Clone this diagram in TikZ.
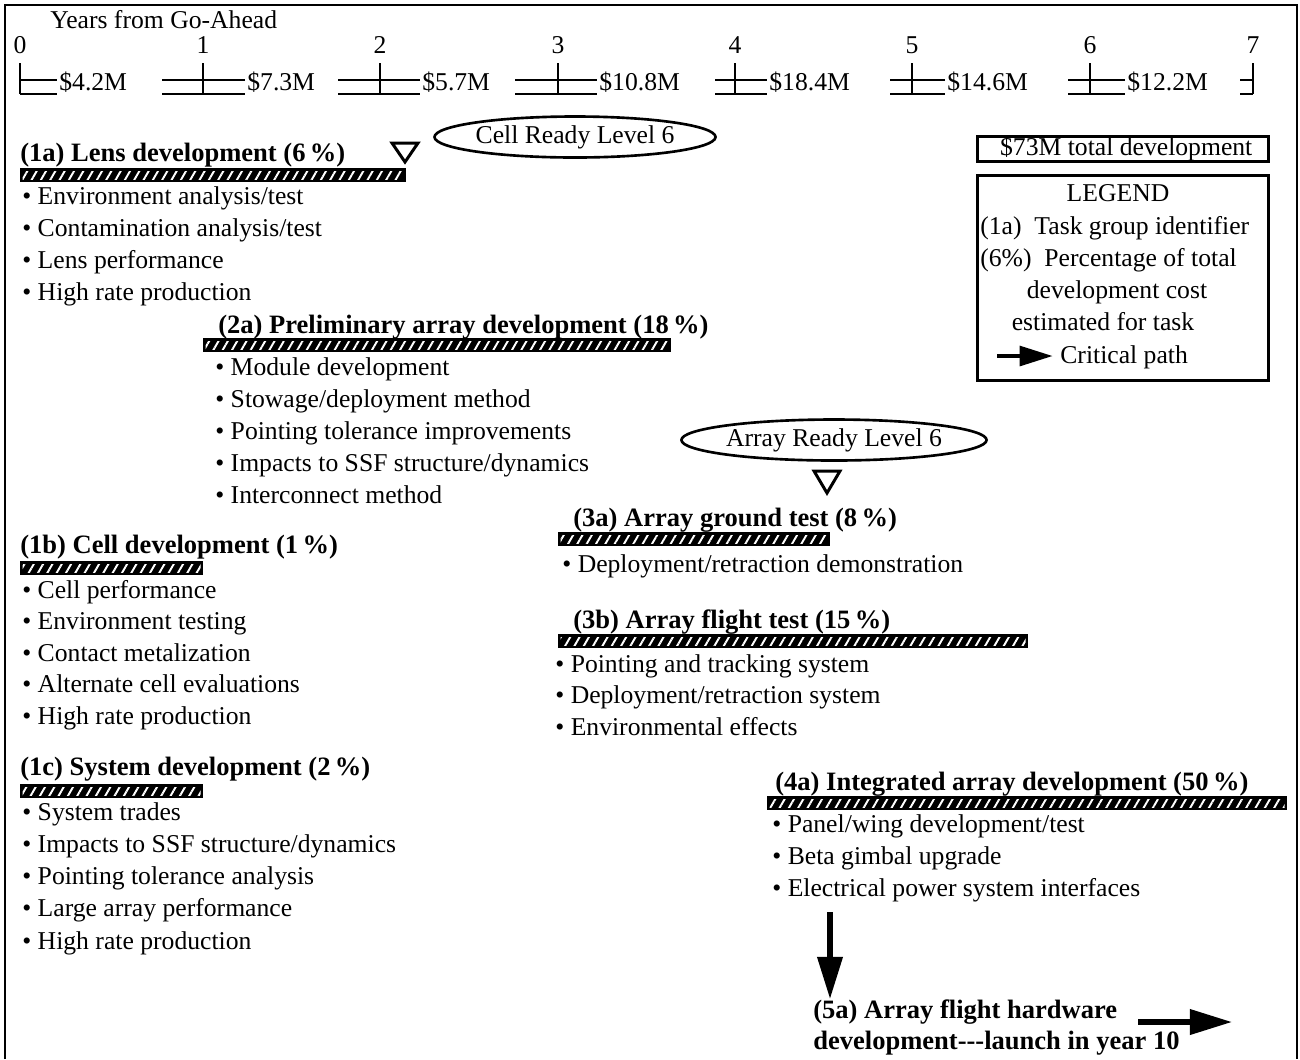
\documentclass[tikz,border=0pt]{standalone}
\usepackage{fontspec}
\setmainfont{Liberation Serif}
\usetikzlibrary{shapes.geometric,arrows.meta,patterns.meta}
\newcommand\txt{\fontsize{14.6}{17.5}\selectfont}
\newcommand\btxt{\fontsize{15.1}{18}\selectfont\bfseries}
\newcommand\hatchbar[3]{%
  \fill (#1,#3) rectangle (#2,#3+14);
  \fill[pattern={Lines[angle=60,distance=4.6pt,line width=1.1pt]},pattern color=white]
    (#1+2.5,#3+3) rectangle (#2-2.5,#3+11);}
\tikzset{
  item/.style={anchor=base west,inner sep=0pt},
  head/.style={anchor=base west,inner sep=0pt,font=\btxt},
  mid/.style={anchor=base,inner sep=0pt},
  ready/.style={ellipse,draw,line width=1.5pt,minimum width=5.62cm,minimum height=0.82cm,inner sep=0pt},
  crit/.style={line width=3pt,-{Triangle[length=24pt,width=14pt]}},
  tick/.style={line width=1.6pt}
}
\begin{document}
\begin{tikzpicture}[x=0.02cm,y=-0.02cm,font=\txt]
\useasboundingbox (0,0) rectangle (1300,1059);
\draw[line width=1.3pt] (5,1059) -- (5,5) -- (1297,5) -- (1297,1059);

\node[item] (goahead) at (50,28) {Years from Go-Ahead};
\foreach \tx/\lx/\rx/\yn/\cost in {20/20/57/0/4.2, 203/162/245/1/7.3, 380/338/420/2/5.7,
    558/515/597/3/10.8, 735/715/767/4/18.4, 912/890/945/5/14.6, 1090/1068/1125/6/12.2}{
  \draw[tick] (\tx,63) -- (\tx,94);
  \draw[tick] (\lx,80) -- (\rx,80) (\lx,94) -- (\rx,94);
  \node[mid] (yr\yn) at (\tx,53) {\yn};
  \node[item] (cost\yn) at (\rx+2,90) {\$\cost M};
}
\draw[tick] (1253,63) -- (1253,94);
\draw[tick] (1240,80) -- (1253,80) (1240,94) -- (1253,94);
\node[mid] (yr7) at (1253,53) {7};

\node[ready] (cellready) at (575,137) {Cell Ready Level 6};
\draw[line width=1.7pt] (392,143) -- (418,143) -- (405,162) -- cycle;
\node[head] (t1a) at (20,161) {(1a) Lens development (6\,\%)};
\hatchbar{20}{406}{168}
\foreach \s [count=\k] in {Environment analysis/test, Contamination analysis/test,
    Lens performance, High rate production}
  \node[item] (i1a-\k) at (22,{204+32*(\k-1)}) {\textbullet\ \s};

\node[head] (t2a) at (218,333) {(2a) Preliminary array development (18\,\%)};
\hatchbar{203}{671}{338}
\foreach \s [count=\k] in {Module development, Stowage/deployment method,
    Pointing tolerance improvements, Impacts to SSF structure/dynamics, Interconnect method}
  \node[item] (i2a-\k) at (215,{375+32*(\k-1)}) {\textbullet\ \s};

\node[ready] (arrayready) at (834,440) {Array Ready Level 6};
\draw[line width=1.7pt] (814,471) -- (840,471) -- (827,493) -- cycle;

\node[head] (t3a) at (573,526) {(3a) Array ground test (8\,\%)};
\hatchbar{558}{830}{532}
\node[item] (i3a-1) at (562,572) {\textbullet\ Deployment/retraction demonstration};

\node[head] (t3b) at (573,628) {(3b) Array flight test (15\,\%)};
\hatchbar{558}{1028}{634}
\foreach \s [count=\k] in {Pointing and tracking system, Deployment/retraction system,
    Environmental effects}
  \node[item] (i3b-\k) at (555,{672+31.5*(\k-1)}) {\textbullet\ \s};

\node[head] (t1b) at (20,553) {(1b) Cell development (1\,\%)};
\hatchbar{20}{203}{561}
\foreach \s [count=\k] in {Cell performance, Environment testing, Contact metalization,
    Alternate cell evaluations, High rate production}
  \node[item] (i1b-\k) at (22,{598+31.5*(\k-1)}) {\textbullet\ \s};

\node[head] (t1c) at (20,775) {(1c) System development (2\,\%)};
\hatchbar{20}{203}{784}
\foreach \s [count=\k] in {System trades, Impacts to SSF structure/dynamics,
    Pointing tolerance analysis, Large array performance, High rate production}
  \node[item] (i1c-\k) at (22,{820+32.25*(\k-1)}) {\textbullet\ \s};

\node[head] (t4a) at (775,790) {(4a) Integrated array development (50\,\%)};
\hatchbar{767}{1287}{796}
\foreach \s [count=\k] in {Panel/wing development/test, Beta gimbal upgrade,
    Electrical power system interfaces}
  \node[item] (i4a-\k) at (772,{832+32*(\k-1)}) {\textbullet\ \s};

\node[head] (t5a) at (813,1018) {(5a) Array flight hardware};
\node[head] (t5b) at (813,1049) {development-{}-{}-launch in year 10};
\coordinate (down) at (830,912);
\draw[crit] (down) -- (down |- t5a.north);
\coordinate (out5a) at (1138,1022);
\coordinate (beyond) at (1232,1022);
\draw[crit] (out5a) -- (beyond);

\node[draw,line width=1.7pt,minimum width=5.82cm,minimum height=0.5cm,inner sep=0pt] (total) at (1123,149) {\ \$73M total development};
\node[draw,line width=1.7pt,minimum width=5.82cm,minimum height=4.12cm] (legend) at (1123,278) {};
\node[mid] (lgtitle) at (1118,201) {LEGEND};
\node[item] (lgid) at (980,234) {(1a)\ \ Task group identifier};
\node[item] (lgpct) at (980,266) {(6\%)\ \ Percentage of total};
\node[mid] (lgpct2) at (1117,298) {development cost};
\node[mid] (lgpct3) at (1103,330) {estimated for task};
\node[item] (lgcrit) at (1060,363) {Critical path};
\coordinate (lga) at (997,356);
\coordinate (lgb) at (1053,356);
\draw[line width=2.8pt,-{Triangle[length=19pt,width=11pt]}] (lga) -- (lgb);
\end{tikzpicture}
\end{document}
